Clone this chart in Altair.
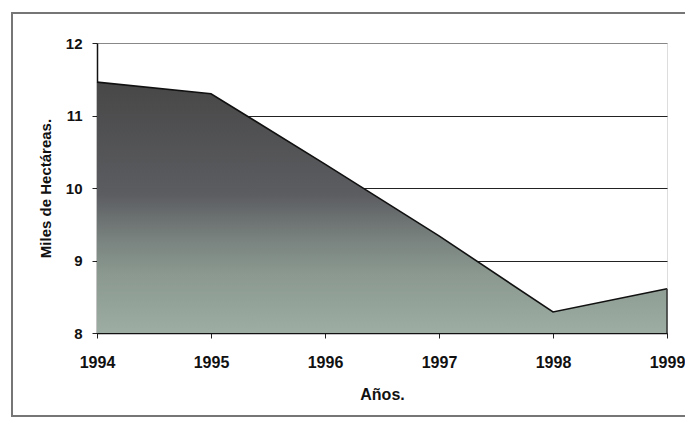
import altair as alt
import pandas as pd

years = [1994, 1995, 1996, 1997, 1998, 1999]
hectareas = [11.46, 11.30, 10.33, 9.34, 8.29, 8.61]
y_ticks = [8, 9, 10, 11, 12]

df = pd.DataFrame({"year": years, "value": hectareas})

FONT = "Liberation Sans"

x_enc = alt.X(
    "year:Q",
    scale=alt.Scale(domain=[1994, 1999], nice=False, zero=False),
    axis=alt.Axis(
        values=years, format="d", title="Años.", grid=False,
        labelFont=FONT, labelFontSize=16, labelFontWeight="bold", labelColor="#111",
        titleFont=FONT, titleFontSize=16, titleFontWeight="bold", titleColor="#111",
        titlePadding=16, labelPadding=16, tickSize=5, tickColor="#222",
        domainColor="#111", domainWidth=1.5, labelFlush=False, labelOverlap=False,
    ),
)
y_enc = alt.Y(
    "value:Q",
    scale=alt.Scale(domain=[8, 12], nice=False, zero=False),
    axis=alt.Axis(
        values=y_ticks, format="d", title="Miles de Hectáreas.", grid=True,
        gridColor={"condition": {"test": "datum.value == 12", "value": "#888"}, "value": "#222"},
        gridWidth=1,
        labelFont=FONT, labelFontSize=15, labelFontWeight="bold", labelColor="#111",
        titleFont=FONT, titleFontSize=15, titleFontWeight="bold", titleColor="#111",
        titlePadding=12, labelPadding=10, tickSize=5, tickColor="#222",
        domainColor="#111", domainWidth=1.5,
    ),
)

base = alt.Chart(df).encode(x=x_enc, y=y_enc)

area = base.mark_area(
    color=alt.Gradient(
        gradient="linear", x1=0, y1=0, x2=0, y2=1,
        stops=[
            alt.GradientStop(offset=0, color="#474747"),
            alt.GradientStop(offset=0.45, color="#5c5d61"),
            alt.GradientStop(offset=0.62, color="#78817e"),
            alt.GradientStop(offset=0.76, color="#8a988f"),
            alt.GradientStop(offset=1, color="#9dada3"),
        ],
    ),
    opacity=1,
).encode(y2=alt.datum(8))

line = base.mark_line(color="#111", strokeWidth=1.6)

right_edge = base.transform_filter("datum.year == 1999").mark_rule(
    color="#333", strokeWidth=1.5
).encode(y2=alt.datum(8))

frame = alt.Chart(df).mark_rect(
    fill=None, stroke="#777", strokeWidth=1.5, clip=False
).encode(
    x=alt.value(-85), x2=alt.value(606), y=alt.value(-30), y2=alt.value(373)
)

chart = alt.layer(frame, area, line, right_edge).properties(
    width=570, height=290,
    autosize=alt.AutoSizeParams(type="none"),
    padding={"left": 89, "top": 35, "right": 18, "bottom": 85},
).configure_view(stroke="#999", strokeWidth=1, strokeDash=[2, 2]).configure(background="white")

chart.save("out.html", embed_options={"renderer": "svg", "actions": False})
